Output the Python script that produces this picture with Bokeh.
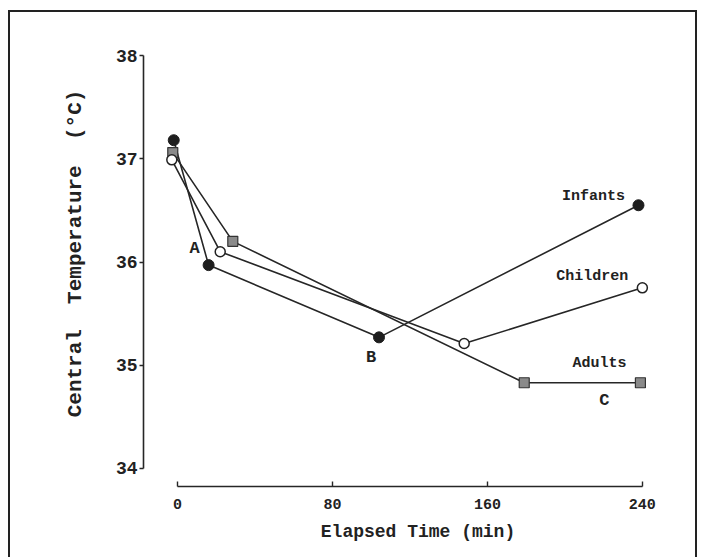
from bokeh.plotting import figure
from bokeh.models import FixedTicker, ColumnDataSource
from bokeh.core.properties import value
from bokeh.embed import file_html
from bokeh.resources import INLINE

# ---- data ----
time_infants = [-2, 16, 104, 238]
temp_infants = [37.18, 35.97, 35.27, 36.55]

time_children = [-3, 22, 148, 240]
temp_children = [36.99, 36.10, 35.21, 35.75]

time_adults = [-2.5, 28.5, 179, 239]
temp_adults = [37.06, 36.20, 34.83, 34.83]

x_ticks = [0, 80, 160, 240]
y_ticks = [34, 35, 36, 37, 38]

series_names = ["Infants", "Children", "Adults"]
point_labels = ["A", "B", "C"]

FONT = "Liberation Mono"
INK = "#262626"

p = figure(width=689, height=547, output_backend="svg", toolbar_location=None,
           x_range=(-17.62, 265.9), y_range=(33.825, 38.34),
           min_border_left=133, min_border_right=7, min_border_top=8,
           min_border_bottom=73)
p.styles = {"border-left": "2px solid #222", "border-top": "2px solid #222",
            "border-right": "2px solid #222", "box-sizing": "border-box",
            "margin-left": "8px", "margin-top": "10px"}
p.background_fill_color = "white"
p.border_fill_color = "white"
p.outline_line_color = None
p.grid.visible = False

# axes
p.xaxis.ticker = FixedTicker(ticks=x_ticks)
p.yaxis.ticker = FixedTicker(ticks=y_ticks)
p.xaxis.bounds = (x_ticks[0], x_ticks[-1])
p.yaxis.bounds = (y_ticks[0], y_ticks[-1])
p.xaxis.axis_label = "Elapsed Time (min)"
p.yaxis.axis_label = "Central\u00a0 Temperature\u00a0 (°C)"
for ax in (p.xaxis, p.yaxis):
    ax.axis_line_color = INK
    ax.axis_line_width = 1.6
    ax.major_tick_line_color = INK
    ax.major_tick_line_width = 1.4
    ax.minor_tick_line_color = None
    ax.major_label_text_font = FONT
    ax.major_label_text_font_style = "bold"
    ax.major_label_text_color = "#222"
    ax.axis_label_text_font = FONT
    ax.axis_label_text_font_style = "bold"
    ax.axis_label_text_color = "#222"
p.xaxis.major_tick_in = 5
p.xaxis.major_tick_out = 0
p.xaxis.major_label_text_font_size = "15px"
p.xaxis.major_label_standoff = 12
p.xaxis.axis_label_text_font_size = "18px"
p.xaxis.axis_label_standoff = 10
p.yaxis.major_tick_in = 0
p.yaxis.major_tick_out = 4
p.yaxis.major_label_text_font_size = "18px"
p.yaxis.major_label_standoff = 2
p.yaxis.axis_label_text_font_size = "21px"
p.yaxis.axis_label_standoff = 26

# lines
for xs, ys in ((time_infants, temp_infants), (time_children, temp_children),
               (time_adults, temp_adults)):
    p.line(xs, ys, line_color=INK, line_width=1.6)

# markers
p.scatter(time_adults, temp_adults, marker="square", size=10,
          fill_color="#8a8a8a", line_color="#333", line_width=1.2)
p.scatter(time_children, temp_children, marker="circle", size=10,
          fill_color="white", line_color="#222", line_width=1.5)
p.scatter(time_infants, temp_infants, marker="circle", size=11,
          fill_color="#1e1e1e", line_color="#1e1e1e")

# series labels, anchored at each series' last point
lab_src = ColumnDataSource(dict(
    x=[time_infants[-1], time_children[-1], time_adults[-1]],
    y=[temp_infants[-1], temp_children[-1], temp_adults[-1]],
    t=series_names,
    dx=[-45, -50, -41], dy=[-9, -11, -19]))
p.text(x="x", y="y", text="t", source=lab_src, x_offset="dx", y_offset="dy",
       text_align="center", text_baseline="middle", text_font=value(FONT),
       text_font_style="bold", text_font_size="15px", text_color="#222")

# point labels A, B, C
pt_src = ColumnDataSource(dict(
    x=[time_infants[1], time_infants[2], time_adults[2]],
    y=[temp_infants[1], temp_infants[2], temp_adults[2]],
    t=point_labels,
    dx=[-14, -8, 80], dy=[-17, 20, 18]))
p.text(x="x", y="y", text="t", source=pt_src, x_offset="dx", y_offset="dy",
       text_align="center", text_baseline="middle", text_font=value(FONT),
       text_font_style="bold", text_font_size="17px", text_color="#222")

open("out.html", "w").write(file_html(p, INLINE))
